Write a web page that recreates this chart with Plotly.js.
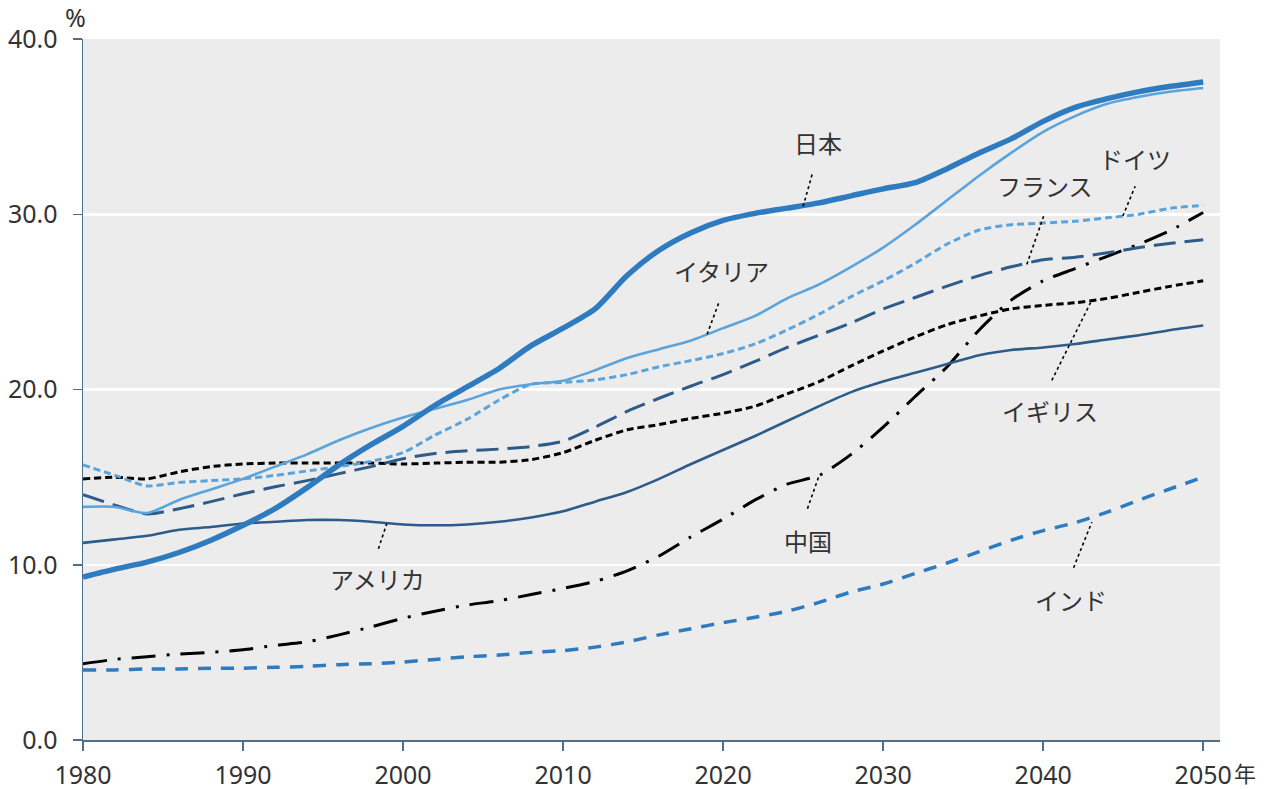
<!DOCTYPE html>
<html>
<head>
<meta charset="utf-8">
<script src="https://cdn.plot.ly/plotly-3.0.1.min.js"></script>
<style>html,body{margin:0;padding:0;background:#fff;}#chart{width:1274px;height:789px;}</style>
</head>
<body>
<div id="chart"></div>
<script>
const years = [1980,1982,1984,1986,1988,1990,1992,1994,1996,1998,2000,2002,2004,2006,2008,2010,2012,2014,2016,2018,2020,2022,2024,2026,2028,2030,2032,2034,2036,2038,2040,2042,2044,2046,2048,2050];

const japan   = [9.3,9.75,10.15,10.7,11.4,12.25,13.2,14.4,15.7,16.85,17.9,19.1,20.15,21.2,22.5,23.5,24.6,26.5,27.95,28.95,29.65,30.05,30.35,30.65,31.05,31.45,31.8,32.6,33.5,34.3,35.3,36.1,36.6,37.0,37.3,37.55];
const italy   = [13.3,13.3,12.95,13.7,14.3,14.9,15.6,16.3,17.1,17.8,18.4,18.9,19.4,20.0,20.3,20.5,21.1,21.8,22.3,22.8,23.5,24.2,25.2,26.0,27.0,28.1,29.4,30.8,32.2,33.5,34.7,35.6,36.3,36.7,37.0,37.2];
const germany = [15.7,15.1,14.5,14.7,14.8,14.9,15.1,15.35,15.6,15.9,16.4,17.4,18.3,19.4,20.3,20.4,20.55,20.85,21.3,21.65,22.05,22.6,23.4,24.3,25.3,26.2,27.2,28.3,29.1,29.4,29.5,29.6,29.8,30.0,30.35,30.5];
const france  = [14.0,13.4,12.9,13.2,13.6,14.05,14.45,14.8,15.2,15.6,16.05,16.35,16.5,16.6,16.75,17.05,17.85,18.75,19.5,20.2,20.85,21.6,22.4,23.1,23.8,24.6,25.25,25.9,26.5,27.0,27.4,27.55,27.8,28.1,28.35,28.55];
const uk      = [14.9,15.0,14.9,15.3,15.6,15.75,15.8,15.8,15.8,15.8,15.75,15.8,15.85,15.85,16.0,16.4,17.1,17.7,18.0,18.35,18.65,19.05,19.75,20.45,21.35,22.2,23.0,23.7,24.2,24.6,24.8,24.95,25.2,25.55,25.9,26.2];
const usa     = [11.25,11.45,11.65,12.0,12.15,12.35,12.45,12.55,12.55,12.45,12.3,12.25,12.3,12.45,12.7,13.05,13.6,14.15,14.9,15.75,16.55,17.35,18.2,19.05,19.85,20.45,20.95,21.45,21.95,22.25,22.4,22.6,22.85,23.1,23.4,23.65];
const china   = [4.35,4.6,4.75,4.9,5.0,5.15,5.4,5.6,6.0,6.45,6.95,7.35,7.7,7.95,8.3,8.65,9.05,9.65,10.5,11.6,12.6,13.7,14.6,15.1,16.3,17.85,19.6,21.3,23.4,25.1,26.2,26.9,27.6,28.3,29.1,30.1];
const india   = [4.0,4.0,4.05,4.05,4.1,4.1,4.15,4.2,4.3,4.35,4.45,4.6,4.75,4.85,5.0,5.1,5.3,5.6,6.0,6.35,6.7,7.0,7.35,7.85,8.45,8.9,9.5,10.1,10.75,11.4,11.95,12.4,13.0,13.7,14.35,15.0];

const yTicks = [0,10,20,30,40];
const xTicks = [1980,1990,2000,2010,2020,2030,2040,2050];
const xTickLabels = ['1980','1990','2000','2010','2020','2030','2040','2050'];

// label text, label position, leader line start/end
const labelNames = ['日本','イタリア','ドイツ','フランス','イギリス','中国','アメリカ','インド'];
const labelX = [2025.9,2019.9,2045.75,2040.1,2040.4,2025.3,1998.4,2041.75];
const labelY = [34.1,26.8,33.2,31.65,18.8,11.4,9.2,8.0];
const leadX0 = [2025.0,2019.0,2044.98,2038.98,2040.54,2025.27,1998.46,2041.9];
const leadY0 = [30.45,23.15,29.9,27.14,20.52,13.2,10.91,9.83];
const leadX1 = [2025.6,2019.77,2045.75,2040.08,2042.98,2025.98,1998.98,2043.04];
const leadY1 = [32.4,25.05,31.6,30.03,24.99,15.04,12.34,12.43];

const C_MID = '#2e7bbf', C_LIGHT = '#5ba3db', C_DARK = '#2d5c8a';

function tr(name, y, color, width, dash) {
  return {x: years, y: y, name: name, type: 'scatter', mode: 'lines',
    line: {color: color, width: width, dash: dash, shape: 'spline', smoothing: 0.7},
    hoverinfo: 'skip'};
}

const data = [
  tr('インド', india, C_MID, 3.5, '13px,10px'),
  tr('中国', china, '#000000', 3, '24px,11px,3px,11px'),
  tr('アメリカ', usa, C_DARK, 2.6, 'solid'),
  tr('イギリス', uk, '#000000', 3, '7px,4px'),
  tr('フランス', france, C_DARK, 3, '22px,9px'),
  tr('ドイツ', germany, C_LIGHT, 3, '7px,4px'),
  tr('イタリア', italy, C_LIGHT, 2.6, 'solid'),
  tr('日本', japan, C_MID, 5.5, 'solid')
];

const annotations = labelNames.map((t, i) => ({
  x: labelX[i], y: labelY[i], xref: 'x', yref: 'y', text: t, showarrow: false,
  font: {family: 'Noto Sans CJK JP, Noto Sans, sans-serif', size: 24, color: '#333333'},
  xanchor: 'center', yanchor: 'middle'
}));
annotations.push({x: 0, y: 1, xref: 'paper', yref: 'paper', text: '%', showarrow: false,
  xanchor: 'center', yanchor: 'bottom', xshift: -8, yshift: 3,
  font: {family: 'Noto Sans, sans-serif', size: 25, color: '#333333'}});
annotations.push({x: 1, y: 0, xref: 'paper', yref: 'paper', text: '年', showarrow: false,
  xanchor: 'left', yanchor: 'middle', xshift: 12, yshift: -32,
  font: {family: 'Noto Sans CJK JP, sans-serif', size: 22, color: '#333333'}});

const shapes = labelNames.map((t, i) => ({
  type: 'line', xref: 'x', yref: 'y', x0: leadX0[i], y0: leadY0[i], x1: leadX1[i], y1: leadY1[i],
  line: {color: '#000000', width: 1.6, dash: 'dot'}
}));

const layout = {
  width: 1274, height: 789,
  margin: {l: 83, r: 54, t: 39, b: 49},
  paper_bgcolor: '#ffffff', plot_bgcolor: '#ececec',
  showlegend: false,
  font: {family: 'Noto Sans, sans-serif', color: '#333333'},
  xaxis: {
    range: [1980, 2051.05], tickvals: xTicks, ticktext: xTickLabels,
    showgrid: false, zeroline: false, showline: true, linecolor: '#4f6f8f', linewidth: 1.5,
    ticks: 'outside', ticklen: 9, tickcolor: '#4f6f8f', tickwidth: 1.5,
    ticklabelstandoff: 3,
    tickfont: {size: 25, color: '#333333', family: 'Noto Sans, sans-serif'}
  },
  yaxis: {
    range: [0, 40], tickvals: yTicks, tickformat: '.1f',
    showgrid: true, gridcolor: '#ffffff', gridwidth: 2.5, zeroline: false,
    showline: true, linecolor: '#4f6f8f', linewidth: 1.5,
    ticks: 'outside', ticklen: 9, tickcolor: '#4f6f8f', tickwidth: 1.5,
    ticklabelstandoff: 10,
    tickfont: {size: 25, color: '#333333', family: 'Noto Sans, sans-serif'}
  },
  annotations: annotations,
  shapes: shapes
};

Plotly.newPlot('chart', data, layout, {displayModeBar: false, staticPlot: true});
</script>
</body>
</html>
